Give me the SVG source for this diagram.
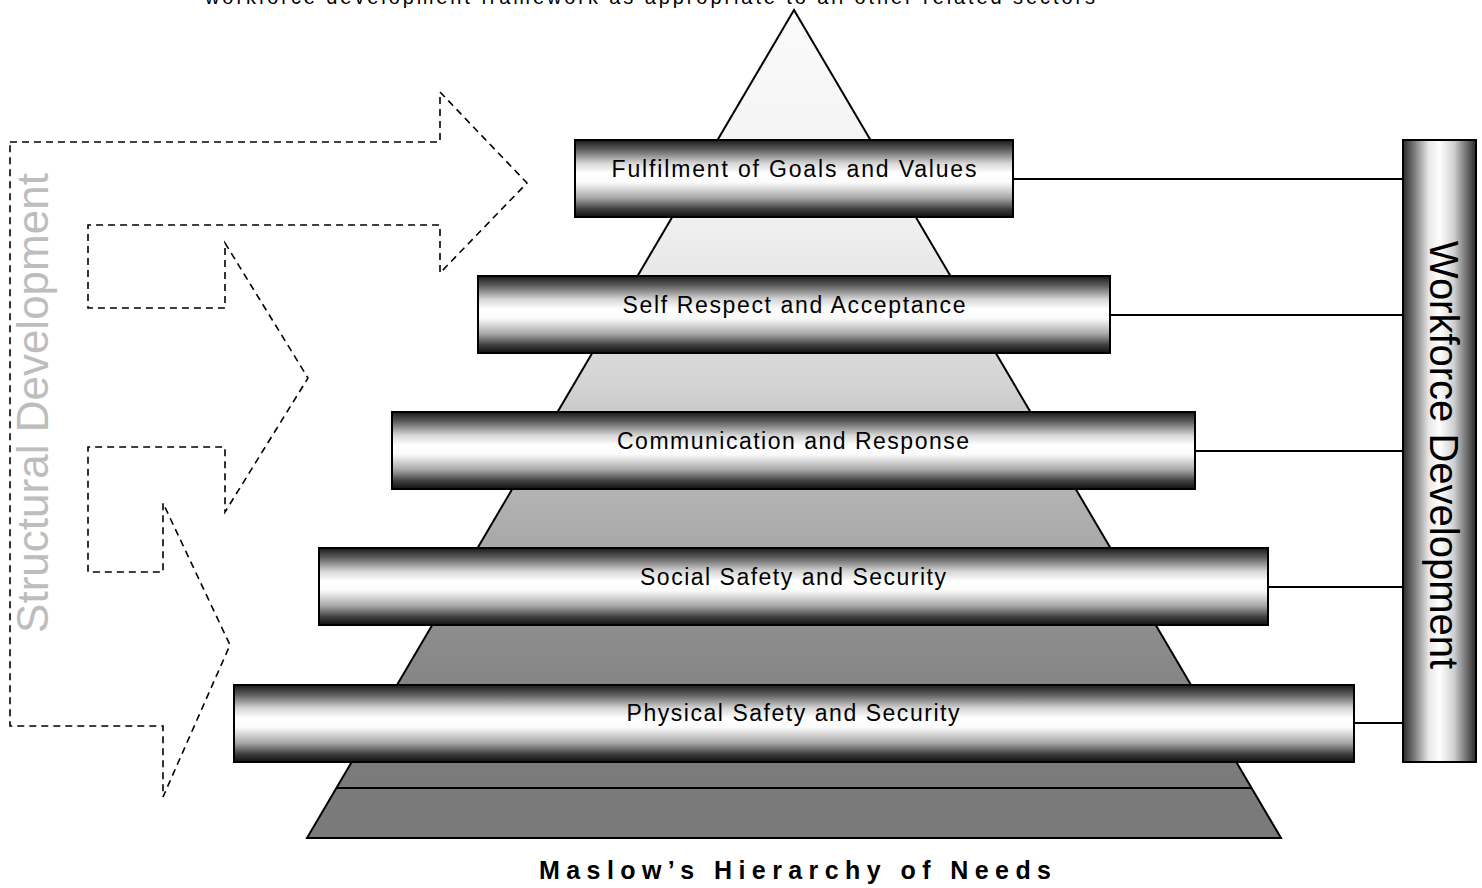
<svg xmlns="http://www.w3.org/2000/svg" width="1482" height="888" viewBox="0 0 1482 888">
<defs>
<linearGradient id="barGrad" x1="0" y1="0" x2="0" y2="1">
<stop offset="0" stop-color="#1a1a1a"/>
<stop offset="0.12" stop-color="#5a5a5a"/>
<stop offset="0.3" stop-color="#d4d4d4"/>
<stop offset="0.43" stop-color="#ffffff"/>
<stop offset="0.55" stop-color="#fbfbfb"/>
<stop offset="0.75" stop-color="#a8a8a8"/>
<stop offset="0.9" stop-color="#3c3c3c"/>
<stop offset="1" stop-color="#111111"/>
</linearGradient>
<linearGradient id="vbarGrad" x1="0" y1="0" x2="1" y2="0">
<stop offset="0" stop-color="#2a2a2a"/>
<stop offset="0.15" stop-color="#777"/>
<stop offset="0.35" stop-color="#e6e6e6"/>
<stop offset="0.5" stop-color="#ffffff"/>
<stop offset="0.7" stop-color="#cfcfcf"/>
<stop offset="0.88" stop-color="#6a6a6a"/>
<stop offset="1" stop-color="#2a2a2a"/>
</linearGradient>
<linearGradient id="pyrGrad" gradientUnits="userSpaceOnUse" x1="0" y1="10" x2="0" y2="838">
<stop offset="0" stop-color="#fbfbfb"/>
<stop offset="0.25" stop-color="#f0f0f0"/>
<stop offset="0.33" stop-color="#e6e6e6"/>
<stop offset="0.45" stop-color="#d4d4d4"/>
<stop offset="0.55" stop-color="#b8b8b8"/>
<stop offset="0.66" stop-color="#a6a6a6"/>
<stop offset="0.74" stop-color="#8e8e8e"/>
<stop offset="0.9" stop-color="#7b7b7b"/>
<stop offset="1" stop-color="#7a7a7a"/>
</linearGradient>
</defs>
<style>
.bar{fill:url(#barGrad);stroke:#000;stroke-width:2}
.lbl{font-family:"Liberation Sans Narrow","Liberation Sans",Arial,sans-serif;font-stretch:condensed;font-size:23px;fill:#000;text-anchor:middle}
.conn{stroke:#000;stroke-width:2;fill:none}
.dash{fill:none;stroke:#000;stroke-width:1.6;stroke-dasharray:7 5}
</style>
<rect width="1482" height="888" fill="#fff"/>

<text x="205" y="4" font-family="Liberation Sans, Arial, sans-serif" font-size="20" textLength="890" lengthAdjust="spacing" fill="#000">workforce development framework as appropriate to all other related sectors</text>

<g id="pyramid">
<polygon points="794,10 307,838 1281,838" fill="url(#pyrGrad)" stroke="#000" stroke-width="2" stroke-linejoin="miter"/>
<line x1="337" y1="788" x2="1251" y2="788" stroke="#000" stroke-width="2"/>
</g>

<g id="structural-arrows">
<path class="dash" d="M10,142 L440,142 L440,92 L527,183 L440,273 L440,225 L88,225 L88,308 L225,308 L225,243 L308,378 L225,512 L225,447 L88,447 L88,572 L163,572 L163,503 L230,645 L163,797 L163,726 L10,726 Z"/>
</g>
<g id="structural-label">
<text transform="translate(48,403) rotate(-90)" font-family="Liberation Sans, Arial, sans-serif" font-size="44" fill="#bdbdbd" text-anchor="middle">Structural Development</text>
</g>

<g id="connectors">
<line class="conn" x1="1013" y1="179" x2="1403" y2="179"/>
<line class="conn" x1="1110" y1="315" x2="1403" y2="315"/>
<line class="conn" x1="1195" y1="451" x2="1403" y2="451"/>
<line class="conn" x1="1268" y1="587" x2="1403" y2="587"/>
<line class="conn" x1="1354" y1="723" x2="1403" y2="723"/>
</g>

<g id="bar1">
<rect class="bar" x="575" y="140" width="438" height="77"/>
<text class="lbl" x="794" y="177" textLength="365" lengthAdjust="spacing">Fulfilment of Goals and Values</text>
</g>
<g id="bar2">
<rect class="bar" x="478" y="276" width="632" height="77"/>
<text class="lbl" x="794" y="313" textLength="343" lengthAdjust="spacing">Self Respect and Acceptance</text>
</g>
<g id="bar3">
<rect class="bar" x="392" y="412" width="803" height="77"/>
<text class="lbl" x="793" y="449" textLength="352" lengthAdjust="spacing">Communication and Response</text>
</g>
<g id="bar4">
<rect class="bar" x="319" y="548" width="949" height="77"/>
<text class="lbl" x="793" y="585" textLength="306" lengthAdjust="spacing">Social Safety and Security</text>
</g>
<g id="bar5">
<rect class="bar" x="234" y="685" width="1120" height="77"/>
<text class="lbl" x="793" y="721" textLength="333" lengthAdjust="spacing">Physical Safety and Security</text>
</g>

<g id="workforce">
<rect x="1403" y="140" width="73" height="622" fill="url(#vbarGrad)" stroke="#000" stroke-width="2"/>
<text transform="translate(1430,455) rotate(90)" font-family="Liberation Sans, Arial, sans-serif" font-size="40" fill="#000" text-anchor="middle">Workforce Development</text>
</g>

<g id="title">
<text x="795" y="879" font-family="Liberation Sans, Arial, sans-serif" font-size="25" font-weight="bold" fill="#000" text-anchor="middle" textLength="512" lengthAdjust="spacing">Maslow’s Hierarchy of Needs</text>
</g>
</svg>
